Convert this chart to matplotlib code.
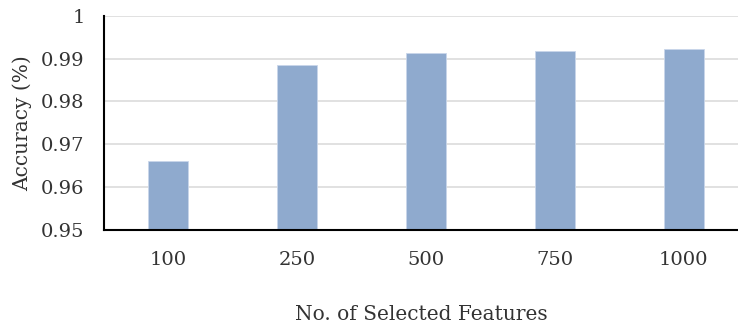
import numpy as np
import matplotlib.pyplot as plt

# accuracy for each feature-subset size
features = ['100', '250', '500', '750', '1000']
accuracy = [0.966, 0.9885, 0.9914, 0.9918, 0.9923]
yticks = [0.95, 0.96, 0.97, 0.98, 0.99, 1.0]
ytick_labels = ['0.95', '0.96', '0.97', '0.98', '0.99', '1']

plt.rcParams['font.family'] = ['DejaVu Serif']

fig = plt.figure(figsize=(7.38, 3.25), dpi=100)
ax = fig.add_axes([104 / 738, (325 - 229.7) / 325, 644 / 738, 213.7 / 325])

x = np.arange(len(features))
ax.bar(x, accuracy, width=0.31, color='#8FAACE', edgecolor='#C9D6EA',
       linewidth=0.6, zorder=3)

ax.set_xlim(-0.5, len(features) - 0.5)
ax.set_ylim(0.95, 1.0)
ax.set_yticks(yticks)
ax.set_yticklabels(ytick_labels)
ax.set_xticks(x)
ax.set_xticklabels(features)
ax.grid(axis='y', color='#D9D9D9', linewidth=1.1, zorder=0)
ax.tick_params(length=0, labelsize=14, colors='#333333')
ax.tick_params(axis='x', pad=15)
ax.tick_params(axis='y', pad=14)

for s in ['top', 'right']:
    ax.spines[s].set_visible(False)
for s in ['left', 'bottom']:
    ax.spines[s].set_linewidth(1.5)
    ax.spines[s].set_color('black')
    ax.spines[s].set_zorder(4)

ax.set_xlabel('No. of Selected Features', fontsize=14.5, color='#333333', labelpad=26.5)
ax.xaxis.label.set_x(0.493)
ax.set_ylabel('Accuracy (%)', fontsize=14.5, color='#333333', labelpad=6)

fig.savefig('out.png', dpi=100)
